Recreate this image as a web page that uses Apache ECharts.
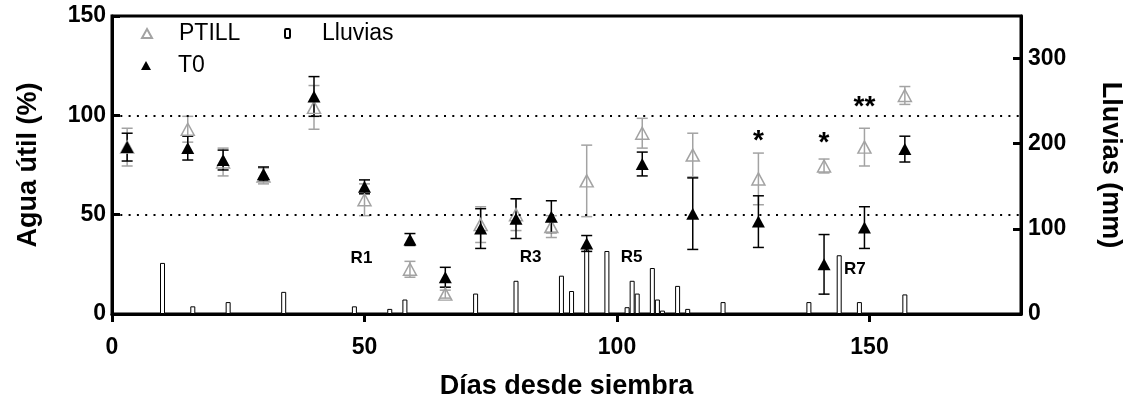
<!DOCTYPE html>
<html>
<head>
<meta charset="utf-8">
<script src="https://cdn.jsdelivr.net/npm/echarts@6/dist/echarts.min.js"></script>
<style>
html,body{margin:0;padding:0;background:#fff;}
#chart{width:1138px;height:399px;}
</style>
</head>
<body>
<div id="chart"></div>
<script>
// ---- data ----
const days = [3, 15, 22, 30, 40, 50, 59, 66, 73, 80, 87, 94, 105, 115, 128, 141, 149, 157];
const ptill = [84, 93, 76.5, 69.5, 104, 57.5, 22.5, 10, 45, 50, 44, 67, 91, 80, 68, 74.5, 84, 110];
const ptillErr = [9.5, 6.5, 7, 4, 11, 8, 4, 2, 9, 8, 5.5, 18, 7.5, 11, 13, 3.5, 9.5, 4.5];
const t0 = [84, 83.5, 77.5, 70.5, 109.5, 64, 37.5, 18.5, 43, 48, 49, 35.5, 75.5, 50.5, 46.5, 25, 43.5, 83];
const t0Err = [7, 6, 5, 3.5, 10, 3.5, 3, 5, 10, 10, 8, 4, 6, 18, 13, 15, 10.5, 6.5];
const rainDays = [10, 16, 23, 34, 48, 55, 58, 72, 80, 89, 91, 94, 98, 102, 103, 104, 107, 108, 109, 112, 114, 121, 138, 144, 148, 157];
const rain = [60, 9, 14, 26, 9, 6, 17, 24, 39, 45, 27, 76, 74, 8, 39, 24, 54, 17, 4, 33, 6, 14, 14, 69, 14, 23];
const refLines = [100, 50];
const stars = [[128, 87, '*'], [141, 86, '*'], [149, 104, '**']];
const stageLabels = [[49.4, 28, 'R1'], [82.9, 28.5, 'R3'], [102.9, 28.5, 'R5'], [147.1, 22.6, 'R7']];
const xTicks = [0, 50, 100, 150];
const yTicks = [0, 50, 100, 150];
const y2Ticks = [0, 100, 200, 300];

const FONT = 'Liberation Sans, Arial, sans-serif';
const GRAY = '#a3a3a3';

function errSeries(name, vals, errs, color, z) {
  return {
    type: 'custom',
    name: name,
    z: z,
    silent: true,
    xAxisIndex: 0, yAxisIndex: 0,
    data: days.map((d, i) => [d, vals[i] - errs[i], vals[i] + errs[i]]),
    encode: { x: 0, y: [1, 2] },
    renderItem: function (params, api) {
      const x = api.value(0);
      const lo = api.coord([x, api.value(1)]);
      const hi = api.coord([x, api.value(2)]);
      const w = 5.5;
      const st = { stroke: color, lineWidth: 1.5, fill: null };
      return {
        type: 'group',
        children: [
          { type: 'line', shape: { x1: lo[0], y1: lo[1], x2: hi[0], y2: hi[1] }, style: st },
          { type: 'line', shape: { x1: lo[0] - w, y1: lo[1], x2: lo[0] + w, y2: lo[1] }, style: st },
          { type: 'line', shape: { x1: hi[0] - w, y1: hi[1], x2: hi[0] + w, y2: hi[1] }, style: st }
        ]
      };
    }
  };
}

const legendText = (pad) => ({ fontSize: 23, fontFamily: FONT, color: '#000', padding: [0, 0, 0, pad] });

const option = {
  animation: false,
  backgroundColor: '#fff',
  grid: { left: 112, right: 117, top: 16, bottom: 85, show: true, borderColor: '#000', borderWidth: 3, containLabel: false, outerBoundsMode: 'none' },
  legend: [
    { data: ['PTILL'], left: 136, top: 17, itemWidth: 10, itemHeight: 9, selectedMode: false, textStyle: legendText(22) },
    { data: ['Lluvias'], left: 279, top: 17, itemWidth: 5, itemHeight: 9, selectedMode: false, textStyle: legendText(27) },
    { data: ['T0'], left: 136, top: 49, itemWidth: 10, itemHeight: 9, selectedMode: false, textStyle: legendText(22) }
  ],
  xAxis: {
    type: 'value', min: 0, max: 180, interval: 50,
    name: 'Días desde siembra', nameLocation: 'middle', nameGap: 59,
    nameTextStyle: { fontSize: 27, fontWeight: 'bold', fontFamily: FONT, color: '#000' },
    axisLine: { show: true, lineStyle: { color: '#000', width: 3 } },
    axisTick: { show: true, inside: false, length: 8, lineStyle: { color: '#000', width: 3 }, customValues: xTicks },
    axisLabel: { fontSize: 23, fontWeight: 'bold', fontFamily: FONT, color: '#000', margin: 22, customValues: xTicks },
    splitLine: { show: false }
  },
  yAxis: [
    {
      type: 'value', min: 0, max: 150, interval: 50, position: 'left',
      name: 'Agua útil (%)', nameLocation: 'middle', nameGap: 70,
      nameTextStyle: { fontSize: 27, fontWeight: 'bold', fontFamily: FONT, color: '#000' },
      axisLine: { show: true, lineStyle: { color: '#000', width: 3 } },
      axisTick: { show: true, inside: true, length: 8, lineStyle: { color: '#000', width: 3 }, customValues: yTicks },
      axisLabel: { fontSize: 23, fontWeight: 'bold', fontFamily: FONT, color: '#000', margin: 6, customValues: yTicks },
      splitLine: { show: false }
    },
    {
      type: 'value', min: 0, max: 350, interval: 100, position: 'right',
      name: 'Lluvias (mm)', nameLocation: 'middle', nameGap: 76, nameRotate: -90,
      nameTextStyle: { fontSize: 27, fontWeight: 'bold', fontFamily: FONT, color: '#000' },
      axisLine: { show: true, lineStyle: { color: '#000', width: 3 } },
      axisTick: { show: true, inside: true, length: 8, lineStyle: { color: '#000', width: 3 }, customValues: y2Ticks },
      axisLabel: { fontSize: 23, fontWeight: 'bold', fontFamily: FONT, color: '#000', margin: 7, customValues: y2Ticks },
      splitLine: { show: false }
    }
  ],
  series: [
    {
      name: 'Lluvias', type: 'bar', xAxisIndex: 0, yAxisIndex: 1, z: 1,
      barWidth: 5,
      data: rainDays.map((d, i) => [d, rain[i]]),
      itemStyle: { color: '#fff', borderColor: '#000', borderWidth: 1 },
      silent: true
    },
    errSeries('PTILL-err', ptill, ptillErr, GRAY, 2),
    errSeries('T0-err', t0, t0Err, '#000', 3),
    {
      name: 'PTILL', type: 'scatter', xAxisIndex: 0, yAxisIndex: 0, z: 4,
      symbol: 'triangle', symbolSize: [13, 12],
      data: days.map((d, i) => [d, ptill[i]]),
      itemStyle: { color: 'rgba(255,255,255,0)', borderColor: GRAY, borderWidth: 1.5, opacity: 1 },
      silent: true,
      markLine: {
        silent: true, symbol: ['none', 'none'],
        label: { show: false },
        lineStyle: { color: '#000', width: 2.2, type: [2, 6.3], opacity: 1 },
        data: refLines.map(v => ({ yAxis: v }))
      }
    },
    {
      name: 'T0', type: 'scatter', xAxisIndex: 0, yAxisIndex: 0, z: 5,
      symbol: 'triangle', symbolSize: [13, 12],
      data: days.map((d, i) => [d, t0[i]]),
      itemStyle: { color: '#000', opacity: 1 },
      silent: true
    },
    {
      name: 'stars', type: 'scatter', z: 6, silent: true,
      symbolSize: 1, itemStyle: { color: 'rgba(0,0,0,0)', opacity: 1 },
      data: stars,
      label: { show: true, position: 'inside', formatter: p => p.data[2], fontSize: 28, fontWeight: 'bold', fontFamily: FONT, color: '#000', opacity: 1 }
    },
    {
      name: 'stages', type: 'scatter', z: 6, silent: true,
      symbolSize: 1, itemStyle: { color: 'rgba(0,0,0,0)', opacity: 1 },
      data: stageLabels,
      label: { show: true, position: 'inside', formatter: p => p.data[2], fontSize: 17, fontWeight: 'bold', fontFamily: FONT, color: '#000', opacity: 1 }
    }
  ]
};

const chart = echarts.init(document.getElementById('chart'), null, { renderer: 'canvas' });
chart.setOption(option);
</script>
</body>
</html>
